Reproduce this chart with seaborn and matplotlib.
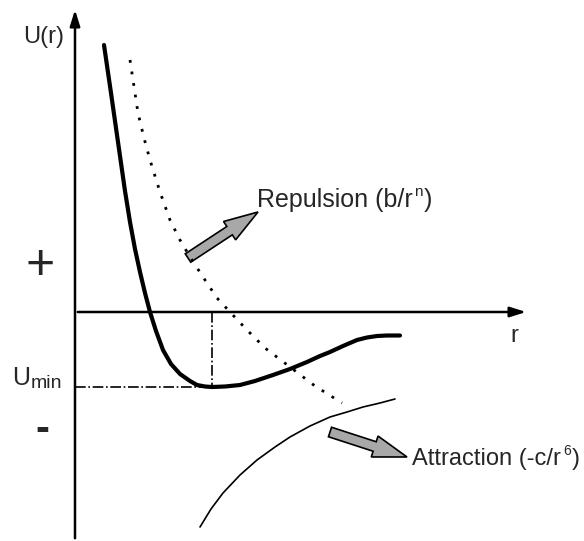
import numpy as np
import pandas as pd
import seaborn as sns
import matplotlib.pyplot as plt
from matplotlib.patches import FancyArrow

sns.set_theme(style="white")
plt.rcParams['font.family'] = ['Liberation Sans', 'DejaVu Sans']

# total potential U(r) (thick curve)
r_total = [0.29, 0.36, 0.43, 0.50, 0.55, 0.60, 0.65, 0.70, 0.75, 0.81, 0.88, 0.96, 1.05, 1.15, 1.22, 1.30, 1.37,
           1.50, 1.65, 1.80, 1.98, 2.15, 2.32, 2.45, 2.55, 2.68, 2.82, 2.92, 3.02, 3.12, 3.25]
u_total = [2.67, 2.19, 1.70, 1.21, 0.90, 0.63, 0.40, 0.19, 0.00, -0.19, -0.38, -0.52, -0.62, -0.69, -0.73, -0.745, -0.75,
           -0.745, -0.73, -0.69, -0.63, -0.57, -0.50, -0.44, -0.40, -0.34, -0.28, -0.255, -0.24, -0.235, -0.235]

# repulsion b/r^n (dotted)
r_rep = [0.55, 0.63, 0.69, 0.75, 0.85, 0.95, 1.05, 1.15, 1.30, 1.42, 1.55, 1.72, 1.90, 2.15, 2.40, 2.67]
u_rep = [2.52, 1.99, 1.74, 1.52, 1.20, 0.92, 0.72, 0.55, 0.32, 0.14, 0.00, -0.18, -0.36, -0.55, -0.74, -0.91]

# attraction -c/r^6 (thin)
r_att = [1.25, 1.36, 1.48, 1.65, 1.82, 2.00, 2.15, 2.35, 2.55, 2.72, 2.88, 3.05, 3.20]
u_att = [-2.15, -1.97, -1.81, -1.63, -1.48, -1.35, -1.25, -1.14, -1.05, -1.00, -0.95, -0.91, -0.87]

r_min, u_min = 1.37, -0.75

fig = plt.figure(figsize=(5.84, 5.41), dpi=100)
ax = fig.add_axes([0, 0, 1, 1])
ax.set_xlim(-0.75, 5.09)
ax.set_ylim(-2.29, 3.12)
ax.axis('off')

# axes with arrow heads
ax.annotate('', xy=(0, 3.05), xytext=(0, -2.29),
            arrowprops=dict(arrowstyle='-|>,head_length=0.8,head_width=0.25', color='black', lw=1.8))
ax.annotate('', xy=(4.54, 0), xytext=(0, 0),
            arrowprops=dict(arrowstyle='-|>,head_length=0.8,head_width=0.25', color='black', lw=1.8))

sns.lineplot(x=r_total, y=u_total, sort=False, color='black', lw=3, ax=ax)
sns.lineplot(x=r_rep, y=u_rep, sort=False, color='black', lw=2, ax=ax, linestyle=(0, (1, 3.2)))
sns.lineplot(x=r_att, y=u_att, sort=False, color='black', lw=1.2, ax=ax)

# dash-dot guides to the minimum
ax.plot([0, r_min], [u_min, u_min], color='black', lw=1.2, linestyle='-.')
ax.plot([r_min, r_min], [0, u_min], color='black', lw=1.2, linestyle='-.')

# block arrows
ax.add_patch(FancyArrow(1.13, 0.54, 0.70, 0.46, width=0.10, head_width=0.22, head_length=0.34,
                        length_includes_head=True, fc='#a8a8a8', ec='black', lw=1.2))
ax.add_patch(FancyArrow(2.55, -1.20, 0.77, -0.25, width=0.10, head_width=0.22, head_length=0.34,
                        length_includes_head=True, fc='#a8a8a8', ec='black', lw=1.2))


def label_with_sup(x, y, main, sup, fs, sup_fs, rise, gap):
    t1 = ax.text(x, y, main, ha='left', va='baseline', fontsize=fs)
    t2 = ax.annotate(sup, xy=(1, y), xycoords=(t1, 'data'), xytext=(gap, rise), textcoords='offset points',
                     ha='left', va='baseline', fontsize=sup_fs)
    ax.annotate(')', xy=(1, y), xycoords=(t2, 'data'), xytext=(1, 0), textcoords='offset points',
                ha='left', va='baseline', fontsize=fs)


ax.text(-0.52, 2.69, 'U(r)', ha='left', va='baseline', fontsize=17)
ax.text(-0.35, 0.46, '+', ha='center', va='center', fontsize=36)
ax.text(-0.33, -1.18, '-', ha='center', va='center', fontsize=30, fontweight='bold')
tu = ax.text(-0.63, -0.73, 'U', ha='left', va='baseline', fontsize=18)
ax.annotate('min', xy=(1, -0.76), xycoords=(tu, 'data'), xytext=(0.5, 0), textcoords='offset points',
            ha='left', va='baseline', fontsize=14)
ax.text(4.35, -0.30, 'r', ha='left', va='baseline', fontsize=17)
label_with_sup(1.82, 1.05, 'Repulsion (b/r', 'n', 18, 11, 8, 0.8)
label_with_sup(3.37, -1.53, 'Attraction (-c/r', '6', 17, 10, 7.5, 1.5)

fig.savefig('out.png', dpi=100)
